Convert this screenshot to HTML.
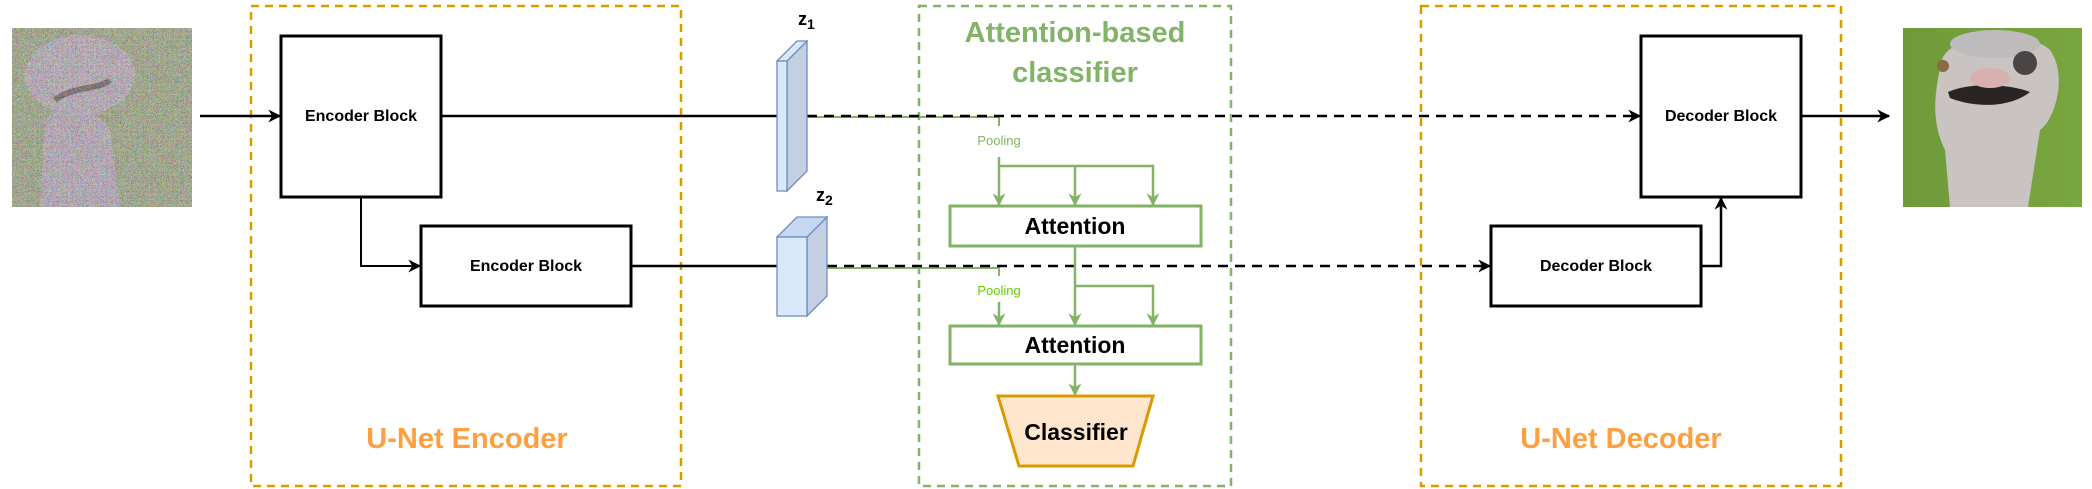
<!DOCTYPE html>
<html><head><meta charset="utf-8"><style>html,body{margin:0;padding:0;background:#fff}svg{display:block}</style></head>
<body>
<svg width="2092" height="489" viewBox="0 0 2092 489" xmlns="http://www.w3.org/2000/svg" font-family="Liberation Sans, Arial, sans-serif">
<defs>
<marker id="ab" viewBox="0 0 10 10" refX="9" refY="5" markerWidth="13" markerHeight="13" markerUnits="userSpaceOnUse" orient="auto"><path d="M0,0 L10,5 L0,10 L3,5 z" fill="#000"/></marker>
<marker id="ag" viewBox="0 0 10 10" refX="9" refY="5" markerWidth="13" markerHeight="13" markerUnits="userSpaceOnUse" orient="auto"><path d="M0,0 L10,5 L0,10 L3,5 z" fill="#82b366"/></marker>
<filter id="noise" x="0" y="0" width="100%" height="100%"><feTurbulence type="turbulence" baseFrequency="1.2" numOctaves="1" seed="5"/><feColorMatrix type="matrix" values="2.5 0 0 0 0.1  0 2.5 0 0 0.1  0 0 2.5 0 0.1  0 0 0 0 0.5"/><feComposite in2="SourceGraphic" operator="in"/></filter>
<linearGradient id="og" x1="0" y1="0" x2="1" y2="0"><stop offset="0" stop-color="#6f9a3a"/><stop offset="1" stop-color="#79a63f"/></linearGradient>
</defs>

<!-- noisy input image -->
<rect x="12" y="28" width="180" height="179" fill="#8e9a6a"/>
<ellipse cx="80" cy="75" rx="55" ry="40" fill="#b0a0b0"/>
<path d="M40,207 L45,120 C60,100 100,110 110,130 L120,207 z" fill="#ae9eb0"/>
<path d="M55,100 C75,85 100,90 110,80" stroke="#4a3a3a" stroke-width="6" fill="none"/>
<rect x="12" y="28" width="180" height="179" fill="#fff" filter="url(#noise)"/>

<!-- dashed containers -->
<rect x="251" y="6" width="430" height="480" fill="none" stroke="#d79b00" stroke-width="2.5" stroke-dasharray="8 6"/>
<rect x="919" y="6" width="312" height="480" fill="none" stroke="#82b366" stroke-width="2.5" stroke-dasharray="8 6"/>
<rect x="1421" y="6" width="420" height="480" fill="none" stroke="#d79b00" stroke-width="2.5" stroke-dasharray="8 6"/>

<!-- encoder blocks -->
<rect x="281" y="36" width="160" height="161" fill="#fff" stroke="#000" stroke-width="3"/>
<text x="361" y="121" text-anchor="middle" font-size="16" font-weight="bold">Encoder Block</text>
<rect x="421" y="226" width="210" height="80" fill="#fff" stroke="#000" stroke-width="3"/>
<text x="526" y="271" text-anchor="middle" font-size="16" font-weight="bold">Encoder Block</text>

<line x1="200" y1="116" x2="280" y2="116" stroke="#000" stroke-width="2.5" marker-end="url(#ab)"/>
<polyline points="361,197 361,266 420,266" fill="none" stroke="#000" stroke-width="2" marker-end="url(#ab)"/>
<line x1="441" y1="116" x2="777" y2="116" stroke="#000" stroke-width="2.5"/>
<line x1="631" y1="266" x2="777" y2="266" stroke="#000" stroke-width="2.5"/>

<polyline points="807,117 999,117 999,126" fill="none" stroke="#82b366" stroke-width="2"/>
<polyline points="827,268 999,268 999,276" fill="none" stroke="#82b366" stroke-width="2"/>

<line x1="807" y1="116" x2="1640" y2="116" stroke="#000" stroke-width="2.5" stroke-dasharray="10 7" marker-end="url(#ab)"/>
<line x1="827" y1="266" x2="1490" y2="266" stroke="#000" stroke-width="2.5" stroke-dasharray="10 7" marker-end="url(#ab)"/>

<!-- z prisms -->
<polygon points="787,61 807,41 807,171 787,191" fill="#c4cfe2" stroke="#6c8ebf" stroke-width="1.3"/>
<polygon points="777,61 797,41 807,41 787,61" fill="#dae8fc" stroke="#6c8ebf" stroke-width="1.3"/>
<rect x="777" y="61" width="10" height="130" fill="#dae8fc" stroke="#6c8ebf" stroke-width="1.3"/>
<polygon points="807,237 827,217 827,296 807,316" fill="#c4cfe2" stroke="#6c8ebf" stroke-width="1.3"/>
<polygon points="777,237 797,217 827,217 807,237" fill="#c4d8f2" stroke="#6c8ebf" stroke-width="1.3"/>
<rect x="777" y="237" width="30" height="79" fill="#dae8fc" stroke="#6c8ebf" stroke-width="1.3"/>
<text x="798" y="25" font-size="18" font-weight="bold">z<tspan font-size="14" dy="4">1</tspan></text>
<text x="816" y="201" font-size="18" font-weight="bold">z<tspan font-size="14" dy="4">2</tspan></text>

<!-- attention classifier -->
<text x="1075" y="42" text-anchor="middle" font-size="29" font-weight="bold" fill="#82b366">Attention-based</text>
<text x="1075" y="82" text-anchor="middle" font-size="29" font-weight="bold" fill="#82b366">classifier</text>
<text x="999" y="145" text-anchor="middle" font-size="13" fill="#82b366">Pooling</text>
<text x="999" y="295" text-anchor="middle" font-size="13" fill="#66cc00">Pooling</text>
<polyline points="999,157 999,205" fill="none" stroke="#82b366" stroke-width="2.5" marker-end="url(#ag)"/>
<polyline points="999,166 1153,166 1153,205" fill="none" stroke="#82b366" stroke-width="2.5" marker-end="url(#ag)"/>
<line x1="1075" y1="166" x2="1075" y2="205" stroke="#82b366" stroke-width="2.5" marker-end="url(#ag)"/>
<rect x="950" y="206" width="251" height="40" fill="#fff" stroke="#82b366" stroke-width="3"/>
<text x="1075" y="234" text-anchor="middle" font-size="23" font-weight="bold">Attention</text>
<line x1="1075" y1="247" x2="1075" y2="325" stroke="#82b366" stroke-width="2.5" marker-end="url(#ag)"/>
<polyline points="1075,286 1153,286 1153,325" fill="none" stroke="#82b366" stroke-width="2.5" marker-end="url(#ag)"/>
<line x1="999" y1="302" x2="999" y2="325" stroke="#82b366" stroke-width="2.5" marker-end="url(#ag)"/>
<rect x="950" y="326" width="251" height="38" fill="#fff" stroke="#82b366" stroke-width="3"/>
<text x="1075" y="353" text-anchor="middle" font-size="23" font-weight="bold">Attention</text>
<line x1="1075" y1="365" x2="1075" y2="395" stroke="#82b366" stroke-width="2.5" marker-end="url(#ag)"/>
<polygon points="998,396 1153,396 1133,466 1019,466" fill="#ffe6cc" stroke="#d79b00" stroke-width="3"/>
<text x="1076" y="440" text-anchor="middle" font-size="23" font-weight="bold">Classifier</text>

<!-- decoder -->
<rect x="1641" y="36" width="160" height="161" fill="#fff" stroke="#000" stroke-width="3"/>
<text x="1721" y="121" text-anchor="middle" font-size="16" font-weight="bold">Decoder Block</text>
<rect x="1491" y="226" width="210" height="80" fill="#fff" stroke="#000" stroke-width="3"/>
<text x="1596" y="271" text-anchor="middle" font-size="16" font-weight="bold">Decoder Block</text>
<polyline points="1701,266 1721,266 1721,198" fill="none" stroke="#000" stroke-width="2.5" marker-end="url(#ab)"/>
<line x1="1801" y1="116" x2="1889" y2="116" stroke="#000" stroke-width="2.5" marker-end="url(#ab)"/>

<text x="467" y="448" text-anchor="middle" font-size="29" font-weight="bold" fill="#ffa040">U-Net Encoder</text>
<text x="1621" y="448" text-anchor="middle" font-size="29" font-weight="bold" fill="#ffa040">U-Net Decoder</text>

<!-- ostrich output -->
<rect x="1903" y="28" width="179" height="179" fill="url(#og)"/>
<path d="M1950,207 L1945,150 C1930,120 1935,90 1942,60 C1950,32 2030,30 2050,50 C2068,75 2055,120 2040,130 L2028,207 z" fill="#c9c4c2"/>
<ellipse cx="1995" cy="44" rx="45" ry="14" fill="#bdbbbc"/>
<circle cx="1943" cy="66" r="6" fill="#8a6a40"/>
<ellipse cx="2025" cy="63" rx="12" ry="12" fill="#4a4444"/>
<path d="M1948,92 C1970,82 2010,84 2030,92 C2010,108 1975,108 1950,98 z" fill="#2a2424"/>
<ellipse cx="1990" cy="78" rx="20" ry="10" fill="#d8b0b0"/>
</svg>
</body></html>
